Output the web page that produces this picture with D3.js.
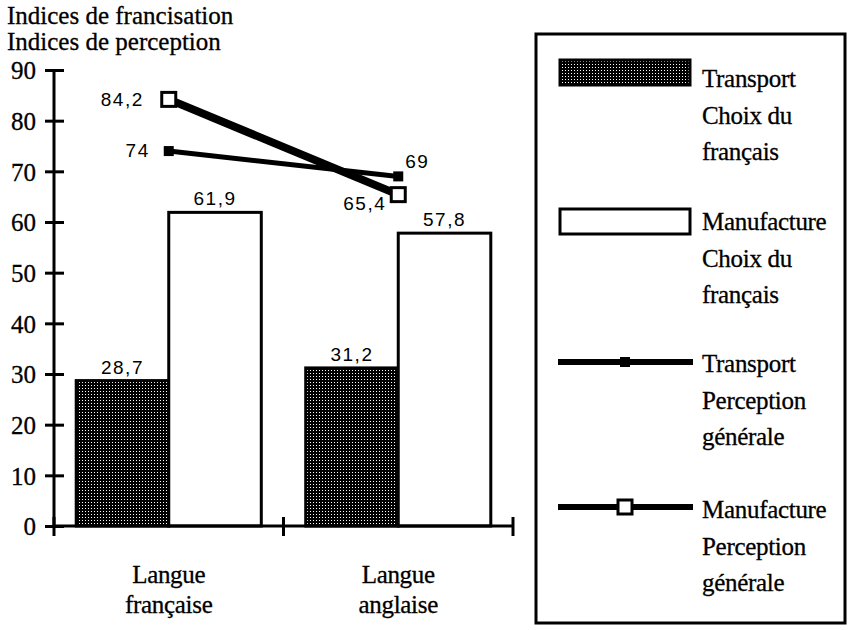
<!DOCTYPE html>
<html>
<head>
<meta charset="utf-8">
<script src="https://cdn.jsdelivr.net/npm/d3@7"></script>
<style>
  body { margin: 0; background: #fff; }
</style>
</head>
<body>
<div id="chart"></div>
<script>
// Data
const categories = ["Langue française", "Langue anglaise"];
const categoryLines = [["Langue", "française"], ["Langue", "anglaise"]];
const barSeries = ["Transport Choix du français", "Manufacture Choix du français"];
const transportChoix = [28.7, 31.2];
const manufactureChoix = [61.9, 57.8];
const transportPerception = [74, 69];
const manufacturePerception = [84.2, 65.4];
const yTicks = [0, 10, 20, 30, 40, 50, 60, 70, 80, 90];
const titleLines = ["Indices de francisation", "Indices de perception"];
const legendItems = [
  {kind: "bar", key: 0, lines: ["Transport", "Choix du", "français"]},
  {kind: "bar", key: 1, lines: ["Manufacture", "Choix du", "français"]},
  {kind: "line", key: 0, lines: ["Transport", "Perception", "générale"]},
  {kind: "line", key: 1, lines: ["Manufacture", "Perception", "générale"]}
];

const fmt = v => String(v).replace(".", ",");
const SERIF = "'Liberation Serif'";
const SANS = "'Liberation Sans'";

// serif text helper: a hair of stroke to match the heavy print
const serif = (sel, size) => sel
    .style("font-family", SERIF)
    .style("font-size", size + "px")
    .style("fill", "#000")
    .style("stroke", "#000")
    .style("stroke-width", "0.3px");
const numStyle = sel => sel
    .style("font-family", SANS)
    .style("font-size", "19px")
    .style("letter-spacing", "1.5px")
    .style("fill", "#000");

const width = 851, height = 630;
const svg = d3.select("#chart").append("svg")
    .attr("width", width)
    .attr("height", height);

// stipple pattern for the dark bars
const defs = svg.append("defs");
const pat = defs.append("pattern")
    .attr("id", "stipple")
    .attr("patternUnits", "userSpaceOnUse")
    .attr("width", 3).attr("height", 3);
pat.append("rect").attr("width", 3).attr("height", 3).attr("fill", "#000");
pat.append("rect").attr("x", 1).attr("y", 1).attr("width", 1).attr("height", 1).attr("fill", "#fff");

// Scales
const x0 = d3.scaleBand().domain(categories).range([54, 513]).padding(0);
const x1 = d3.scaleBand().domain(barSeries).range([0, x0.bandwidth()])
    .paddingInner(0).paddingOuter(0.24);
const y = d3.scaleLinear().domain([0, 90]).range([526, 70]);
const barFill = ["url(#stipple)", "#fff"];

// Title
svg.selectAll("text.title")
    .data(titleLines)
    .enter().append("text")
    .attr("class", "title")
    .attr("x", 7)
    .attr("y", (d, i) => 24 + i * 26)
    .call(serif, 25)
    .text(d => d);

// Bars
const barData = [transportChoix, manufactureChoix];
barSeries.forEach((s, si) => {
  const g = svg.append("g");
  g.selectAll("rect")
    .data(barData[si])
    .enter().append("rect")
    .attr("x", (d, i) => x0(categories[i]) + x1(s))
    .attr("y", d => y(d))
    .attr("width", x1.bandwidth())
    .attr("height", d => y(0) - y(d))
    .attr("fill", barFill[si])
    .attr("stroke", "#000")
    .attr("stroke-width", 3);
  g.selectAll("text")
    .data(barData[si])
    .enter().append("text")
    .attr("x", (d, i) => x0(categories[i]) + x1(s) + x1.bandwidth() / 2)
    .attr("y", d => y(d) - 7)
    .attr("text-anchor", "middle")
    .call(numStyle)
    .text(d => fmt(d));
});

// Y axis
const yAxis = svg.append("g")
    .attr("transform", "translate(54,0)")
    .call(d3.axisLeft(y).tickValues(yTicks).tickSize(9).tickPadding(9));
yAxis.select(".domain").remove();
yAxis.selectAll(".tick line").attr("x1", 10).attr("stroke-width", 3);
yAxis.selectAll(".tick text").call(serif, 25).attr("dy", "0.35em");
yAxis.append("line")
    .attr("x1", 0).attr("x2", 0)
    .attr("y1", y(0) + 1).attr("y2", y(90))
    .attr("stroke", "#000").attr("stroke-width", 3);

// X axis
const xAxis = svg.append("g");
xAxis.append("line")
    .attr("x1", x0.range()[0]).attr("x2", x0.range()[1])
    .attr("y1", y(0)).attr("y2", y(0))
    .attr("stroke", "#000").attr("stroke-width", 3);
const xTickPos = categories.map(c => x0(c)).concat([x0.range()[1]]);
xAxis.selectAll("line.tick")
    .data(xTickPos)
    .enter().append("line")
    .attr("class", "tick")
    .attr("x1", d => d).attr("x2", d => d)
    .attr("y1", y(0) - 9).attr("y2", y(0) + 10)
    .attr("stroke", "#000").attr("stroke-width", 3);
categories.forEach((c, i) => {
  xAxis.selectAll(null)
    .data(categoryLines[i])
    .enter().append("text")
    .attr("x", x0(c) + x0.bandwidth() / 2)
    .attr("y", (d, j) => 583 + j * 30)
    .attr("text-anchor", "middle")
    .call(serif, 25)
    .style("letter-spacing", "-0.3px")
    .text(d => d);
});

// Perception lines
const lineSeries = [
  {values: transportPerception, width: 5, marker: 10, open: false,
   labels: [{dx: -19, dy: 6, anchor: "end"}, {dx: 7, dy: -8, anchor: "start"}]},
  {values: manufacturePerception, width: 8, marker: 14, open: true,
   labels: [{dx: -25, dy: 7, anchor: "end"}, {dx: -12, dy: 15, anchor: "end"}]}
];
const cx = c => x0(c) + x0.bandwidth() / 2;
const line = d3.line()
    .x((d, i) => cx(categories[i]))
    .y(d => y(d));

lineSeries.forEach(s => {
  svg.append("path")
    .datum(s.values)
    .attr("fill", "none")
    .attr("stroke", "#000")
    .attr("stroke-width", s.width)
    .attr("d", line);
});
lineSeries.forEach(s => {
  svg.append("g").selectAll("rect")
    .data(s.values)
    .enter().append("rect")
    .attr("x", (d, i) => cx(categories[i]) - s.marker / 2)
    .attr("y", d => y(d) - s.marker / 2)
    .attr("width", s.marker)
    .attr("height", s.marker)
    .attr("fill", s.open ? "#fff" : "#000")
    .attr("stroke", "#000")
    .attr("stroke-width", s.open ? 3 : 0);
  svg.append("g").selectAll("text")
    .data(s.values)
    .enter().append("text")
    .attr("x", (d, i) => cx(categories[i]) + s.labels[i].dx)
    .attr("y", (d, i) => y(d) + s.labels[i].dy)
    .attr("text-anchor", (d, i) => s.labels[i].anchor)
    .call(numStyle)
    .text(d => fmt(d));
});

// Legend
const legend = svg.append("g");
legend.append("rect")
    .attr("x", 536).attr("y", 34)
    .attr("width", 309).attr("height", 589)
    .attr("fill", "none")
    .attr("stroke", "#000")
    .attr("stroke-width", 3);

const legendY = [72, 221, 362, 507];
const legendTextY = [87, 230, 372, 518];
legendItems.forEach((item, i) => {
  const yy = legendY[i];
  if (item.kind === "bar") {
    legend.append("rect")
      .attr("x", 560).attr("y", yy - 12)
      .attr("width", 130).attr("height", 25)
      .attr("fill", barFill[item.key])
      .attr("stroke", "#000")
      .attr("stroke-width", 3);
  } else {
    const s = lineSeries[item.key];
    legend.append("line")
      .attr("x1", 558).attr("x2", 693)
      .attr("y1", yy).attr("y2", yy)
      .attr("stroke", "#000")
      .attr("stroke-width", 6);
    legend.append("rect")
      .attr("x", 625 - s.marker / 2).attr("y", yy - s.marker / 2)
      .attr("width", s.marker).attr("height", s.marker)
      .attr("fill", s.open ? "#fff" : "#000")
      .attr("stroke", "#000")
      .attr("stroke-width", s.open ? 3 : 0);
  }
  legend.selectAll(null)
    .data(item.lines)
    .enter().append("text")
    .attr("x", 702)
    .attr("y", (d, j) => legendTextY[i] + j * 36.5)
    .call(serif, 25)
    .style("letter-spacing", "-0.3px")
    .text(d => d);
});
</script>
</body>
</html>
